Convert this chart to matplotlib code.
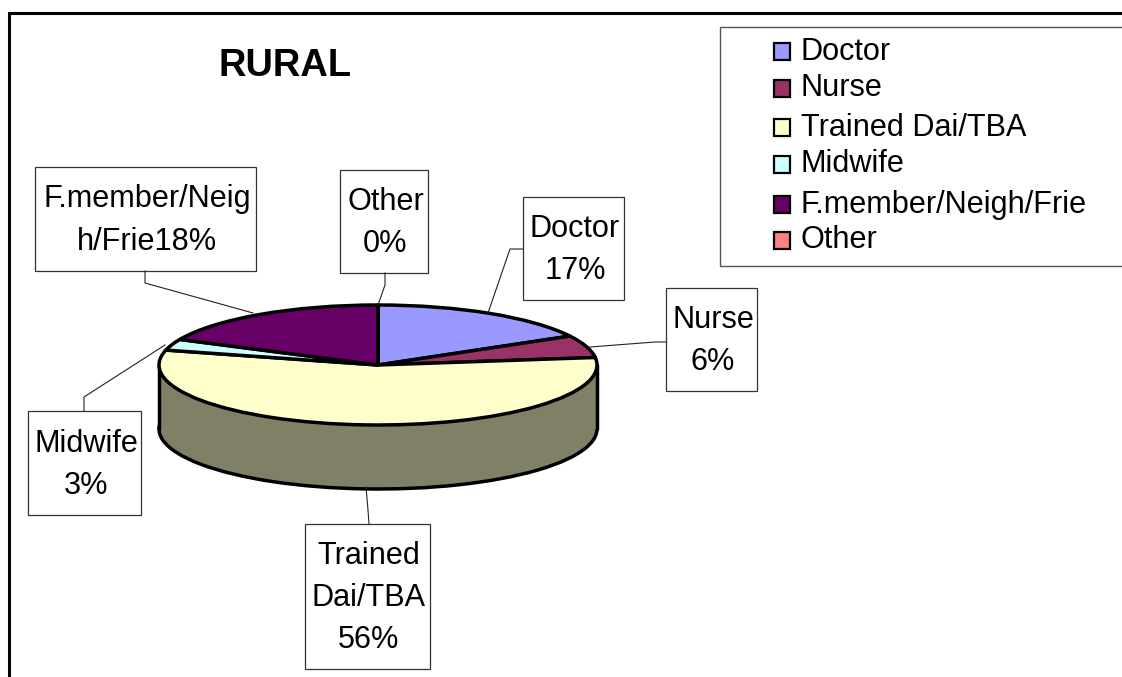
import matplotlib
matplotlib.use("Agg")
import matplotlib.pyplot as plt
from matplotlib.patches import Rectangle

plt.rcParams['font.family'] = ['Liberation Sans', 'DejaVu Sans']

# ---- data ----
categories = ['Doctor', 'Nurse', 'Trained Dai/TBA', 'Midwife', 'F.member/Neigh/Frie', 'Other']
values = [17, 6, 56, 3, 18, 0]
colors = ['#9999FF', '#993366', '#FFFFCC', '#CCFFFF', '#660066', '#FF8080']
side_color = '#808066'
title = 'RURAL'
label_lines = [['Doctor', '17%'], ['Nurse', '6%'], ['Trained', 'Dai/TBA', '56%'],
               ['Midwife', '3%'], ['F.member/Neig', 'h/Frie18%'], ['Other', '0%']]

# ---- layout (pixels, origin top-left) ----
W, H = 1122, 677
cx, cy, rx, ry, depth = 378, 365, 219, 60, 64
boxes = [(523, 197, 624, 300), (666, 288, 757, 391), (305, 524, 430, 669),
         (28, 411, 141, 515), (35, 167, 256, 271), (340, 170, 428, 273)]
leaders = [[(523, 249), (510, 249), (488, 313)],
           [(666, 342), (655, 342), (590, 347)],
           [(369, 524), (368, 510), (366, 487)],
           [(84, 411), (84, 397), (165, 345)],
           [(145, 271), (145, 283), (253, 313)],
           [(385, 273), (385, 285), (378, 305)]]
legend_y = [51, 88, 127, 164, 204, 240]
FS = 22.1

fig = plt.figure(figsize=(W / 100, H / 100), dpi=100, facecolor='white')

# pie axes: scaled so that unit circle appears as the tilted ellipse
margin = 1.1
ax_l = cx - rx * margin
ax_w = 2 * rx * margin
y_top_px = cy - ry * margin
y_bot_px = cy + depth + ry * margin
ax = fig.add_axes([ax_l / W, 1 - y_bot_px / H, ax_w / W, (y_bot_px - y_top_px) / H])
d = depth / ry
edge = dict(edgecolor='black', linewidth=2.5, joinstyle='round')
ax.pie(values, colors=[side_color] * len(values), startangle=90, counterclock=False,
       center=(0, -d), radius=1, wedgeprops=edge)
ax.add_patch(Rectangle((-1, -d), 2, d, facecolor=side_color, edgecolor='none', zorder=3))
ax.add_patch(Rectangle((-0.95, -d - 0.15), 1.9, 0.16, facecolor=side_color, edgecolor='none', zorder=3))
ax.plot([-1, -1], [0, -d], color='black', lw=2.5, zorder=4, solid_capstyle='round')
ax.plot([1, 1], [0, -d], color='black', lw=2.5, zorder=4, solid_capstyle='round')
wedges, _ = ax.pie(values, colors=colors, startangle=90, counterclock=False,
                   radius=1, wedgeprops=edge)
for w in wedges:
    w.set_zorder(5)
ax.set_aspect('auto')
ax.set_xlim(-margin, margin)
ax.set_ylim(-d - margin, margin)
ax.axis('off')

# overlay in pixel coordinates
ov = fig.add_axes([0, 0, 1, 1], facecolor='none')
ov.set_xlim(0, W)
ov.set_ylim(H, 0)
ov.axis('off')

# outer frame
ov.plot([9.5, 9.5, W], [H, 12.5, 12.5], color='black', lw=2.2, solid_joinstyle='miter')

ov.text(285, 66, title, fontsize=27.4, fontweight='bold', ha='center', va='center')

# data labels and leader lines
for box, lines, lead in zip(boxes, label_lines, leaders):
    x0, y0, x1, y1 = box
    ov.plot(*zip(*lead), color='#222222', lw=0.8)
    ov.add_patch(Rectangle((x0, y0), x1 - x0, y1 - y0, facecolor='white',
                           edgecolor='#333333', lw=0.9))
    n = len(lines)
    mid = (y0 + y1) / 2
    for i, s in enumerate(lines):
        ov.text((x0 + x1) / 2 + 1.5, mid + (i - (n - 1) / 2) * 42 - 2, s, fontsize=FS,
                ha='center', va='center_baseline')

# legend
ov.add_patch(Rectangle((720, 27), W + 10 - 720, 239, facecolor='white',
                       edgecolor='#555555', lw=1.0, clip_on=True))
for name, col, y in zip(categories, colors, legend_y):
    ov.add_patch(Rectangle((774, y - 8.5), 16, 17, facecolor=col, edgecolor='black', lw=1.6))
    ov.text(801, y - 3, name, fontsize=FS, ha='left', va='center_baseline')

fig.savefig('out.png', dpi=100, facecolor='white')
